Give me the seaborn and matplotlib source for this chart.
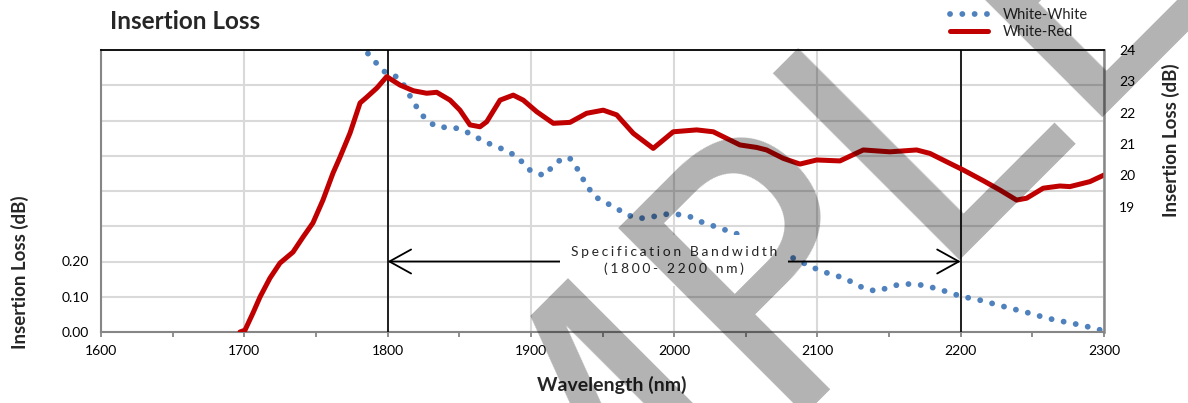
import numpy as np
import matplotlib
matplotlib.use('Agg')
import matplotlib.pyplot as plt
import seaborn as sns

# White-Red, right axis (dB)
red_nm = [1697.0, 1700.5, 1706.1, 1711.0, 1717.9, 1724.9, 1734.0, 1741.0, 1747.9, 1754.9,
          1761.9, 1766.8, 1773.8, 1780.8, 1785.6, 1792.6, 1799.4, 1808.7, 1818.0, 1827.3,
          1834.3, 1843.6, 1850.5, 1857.5, 1864.5, 1869.2, 1878.5, 1887.7, 1894.7, 1904.1,
          1915.7, 1927.3, 1938.9, 1950.5, 1959.9, 1971.5, 1985.4, 1999.4, 2015.7, 2027.3,
          2045.9, 2057.6, 2064.5, 2076.2, 2087.8, 2099.5, 2115.7, 2132.0, 2150.6, 2169.2,
          2178.5, 2192.5, 2201.8, 2215.7, 2227.4, 2239.0, 2246.0, 2257.6, 2269.2, 2276.2,
          2290.2, 2300.0]
red_db = [15.00, 15.06, 15.61, 16.12, 16.72, 17.20, 17.55, 18.03, 18.48, 19.21,
          20.07, 20.58, 21.35, 22.31, 22.50, 22.79, 23.15, 22.88, 22.70, 22.62,
          22.65, 22.40, 22.08, 21.61, 21.55, 21.71, 22.40, 22.56, 22.40, 22.03,
          21.66, 21.69, 21.98, 22.08, 21.93, 21.34, 20.86, 21.39, 21.45, 21.39,
          20.97, 20.89, 20.81, 20.54, 20.36, 20.49, 20.46, 20.81, 20.75, 20.81,
          20.70, 20.38, 20.17, 19.83, 19.53, 19.21, 19.27, 19.59, 19.66, 19.64,
          19.80, 20.01]

# White-White, left axis (dB)
ww_nm = [1786.3, 1791.9, 1797.5, 1801.7, 1809.2, 1813.3, 1817.9, 1822.6, 1828.4, 1835.9,
         1844.3, 1852.6, 1860.5, 1868.0, 1876.2, 1884.0, 1891.7, 1896.6, 1902.9, 1909.9,
         1915.0, 1920.8, 1926.8, 1932.0, 1934.5, 1939.0, 1942.7, 1949.9, 1957.8, 1965.2,
         1972.9, 1981.3, 1990.1, 1998.7, 2010.1, 2018.5, 2026.6, 2035.3, 2043.4, 2051.5,
         2059.9, 2068.3, 2076.7, 2084.3, 2091.8, 2099.7, 2107.8, 2116.2, 2124.6, 2132.3,
         2140.9, 2149.0, 2157.6, 2166.2, 2175.1, 2183.9, 2192.3, 2200.9, 2209.9, 2218.5,
         2227.4, 2236.0, 2244.8, 2255.3, 2265.8, 2276.3, 2286.7, 2297.2]
ww_il = [0.790, 0.764, 0.739, 0.735, 0.716, 0.686, 0.654, 0.623, 0.596, 0.580,
         0.582, 0.573, 0.556, 0.539, 0.526, 0.512, 0.494, 0.466, 0.451, 0.444,
         0.470, 0.489, 0.495, 0.467, 0.442, 0.422, 0.390, 0.371, 0.356, 0.337,
         0.323, 0.323, 0.332, 0.336, 0.329, 0.313, 0.302, 0.290, 0.279, 0.267,
         0.253, 0.239, 0.224, 0.207, 0.193, 0.178, 0.166, 0.156, 0.141, 0.124,
         0.116, 0.125, 0.136, 0.136, 0.132, 0.122, 0.112, 0.100, 0.094, 0.085,
         0.075, 0.066, 0.057, 0.045, 0.034, 0.026, 0.017, 0.006]

x_ticks = [1600, 1700, 1800, 1900, 2000, 2100, 2200, 2300]
left_ticks = [0.0, 0.1, 0.2, 0.3, 0.4, 0.5, 0.6, 0.7, 0.8]
left_labels = ['0.00', '0.10', '0.20', '', '', '', '', '', '']
right_ticks = [19, 20, 21, 22, 23, 24]
band_lo, band_hi = 1800, 2200

BLUE = '#4F81BD'
RED = '#C00000'
GRAY = '#868686'


def spaced(s):
    # wide letter spacing like the original label
    return '\u2009\u200a'.join(s)


sns.set_theme(style='white')
plt.rcParams['font.family'] = ['Lato', 'DejaVu Sans']

fig = plt.figure(figsize=(11.88, 4.03), dpi=100)
ax = fig.add_axes([101 / 1188, 71 / 403, 1003 / 1188, 282 / 403])
ax2 = ax.twinx()

sns.lineplot(x=ww_nm, y=ww_il, ax=ax, color=BLUE, lw=4.2, linestyle=(0, (0.01, 2.1)),
             dash_capstyle='round', sort=False, label='White-White', legend=False)
sns.lineplot(x=red_nm, y=red_db, ax=ax2, color=RED, lw=3.6, sort=False,
             label='White-Red', legend=False)

ax.set_xlim(1600, 2300)
ax.set_ylim(0, 0.8)
ax2.set_ylim(15, 24)

ax.set_xticks(x_ticks)
ax.set_xticks([1650, 1750, 1850, 1950, 2050, 2150, 2250], minor=True)
ax.set_yticks(left_ticks)
ax.set_yticklabels(left_labels)
ax2.set_yticks(right_ticks)

ax.grid(True, which='major', color='#D9D9D9', lw=1.5)
ax.set_axisbelow(True)
ax2.grid(False)

ax.tick_params(axis='x', which='both', bottom=True, direction='out', length=3.5, width=1.3,
               color=GRAY, pad=6, labelsize=10, labelcolor='black')
ax.tick_params(axis='y', left=False, length=0, pad=9, labelsize=10, labelcolor='black')
ax2.tick_params(axis='y', right=False, length=0, pad=11, labelsize=10, labelcolor='black')

for s in ['top', 'right']:
    ax.spines[s].set_visible(False)
for s in ['left', 'bottom']:
    ax.spines[s].set_color(GRAY)
    ax.spines[s].set_linewidth(1.5)
    ax2.spines[s].set_visible(False)
ax2.spines['top'].set_color('black')
ax2.spines['top'].set_linewidth(1.3)
ax2.spines['right'].set_color(GRAY)
ax2.spines['right'].set_linewidth(1.8)

for xv in [band_lo, band_hi]:
    ax.axvline(xv, color='black', lw=1.2, zorder=3)

ax.annotate('', xy=(band_lo, 0.2), xytext=(band_hi, 0.2),
            arrowprops=dict(arrowstyle='<->,head_length=1.3,head_width=0.72', lw=1.3,
                            color='black', shrinkA=0, shrinkB=0), zorder=4)
ax.text(2000, 0.203, spaced('Specification Bandwidth') + '\n' + spaced('(1800- 2200 nm)'),
        ha='center', va='center', fontsize=10, color='#262626', linespacing=1.45,
        bbox=dict(facecolor='white', edgecolor='none', pad=8), zorder=5)

ax.set_xlabel('Wavelength (nm)', fontsize=14, fontweight='bold')
ax.xaxis.set_label_coords(0.509, -0.155)
ax.set_ylabel('Insertion Loss (dB)', fontsize=13.5, fontweight='bold')
ax.yaxis.set_label_coords(-0.072, 0.213)
ax2.set_ylabel('Insertion Loss (dB)', fontsize=13.5, fontweight='bold')
ax2.yaxis.set_label_coords(1.058, 0.681)

fig.text(110 / 1188, 1 - 29 / 403, 'Insertion Loss', fontsize=17.5, fontweight='bold',
         ha='left', va='baseline')

h1, l1 = ax.get_legend_handles_labels()
h2, l2 = ax2.get_legend_handles_labels()
fig.legend(h1 + h2, l1 + l2, loc='upper left', bbox_to_anchor=(944 / 1188, 1 - 2 / 403),
           frameon=False, fontsize=10.5, handlelength=2.6, handletextpad=1.0,
           labelspacing=0.2, borderaxespad=0)

# watermark
fig.text(210 / 1188, (403 - 986) / 403, 'SAMPLE', fontsize=261, family='DejaVu Sans',
         color='black', alpha=0.3, rotation=45, rotation_mode='anchor',
         ha='left', va='baseline', zorder=10)

fig.savefig('out.png', dpi=100)
